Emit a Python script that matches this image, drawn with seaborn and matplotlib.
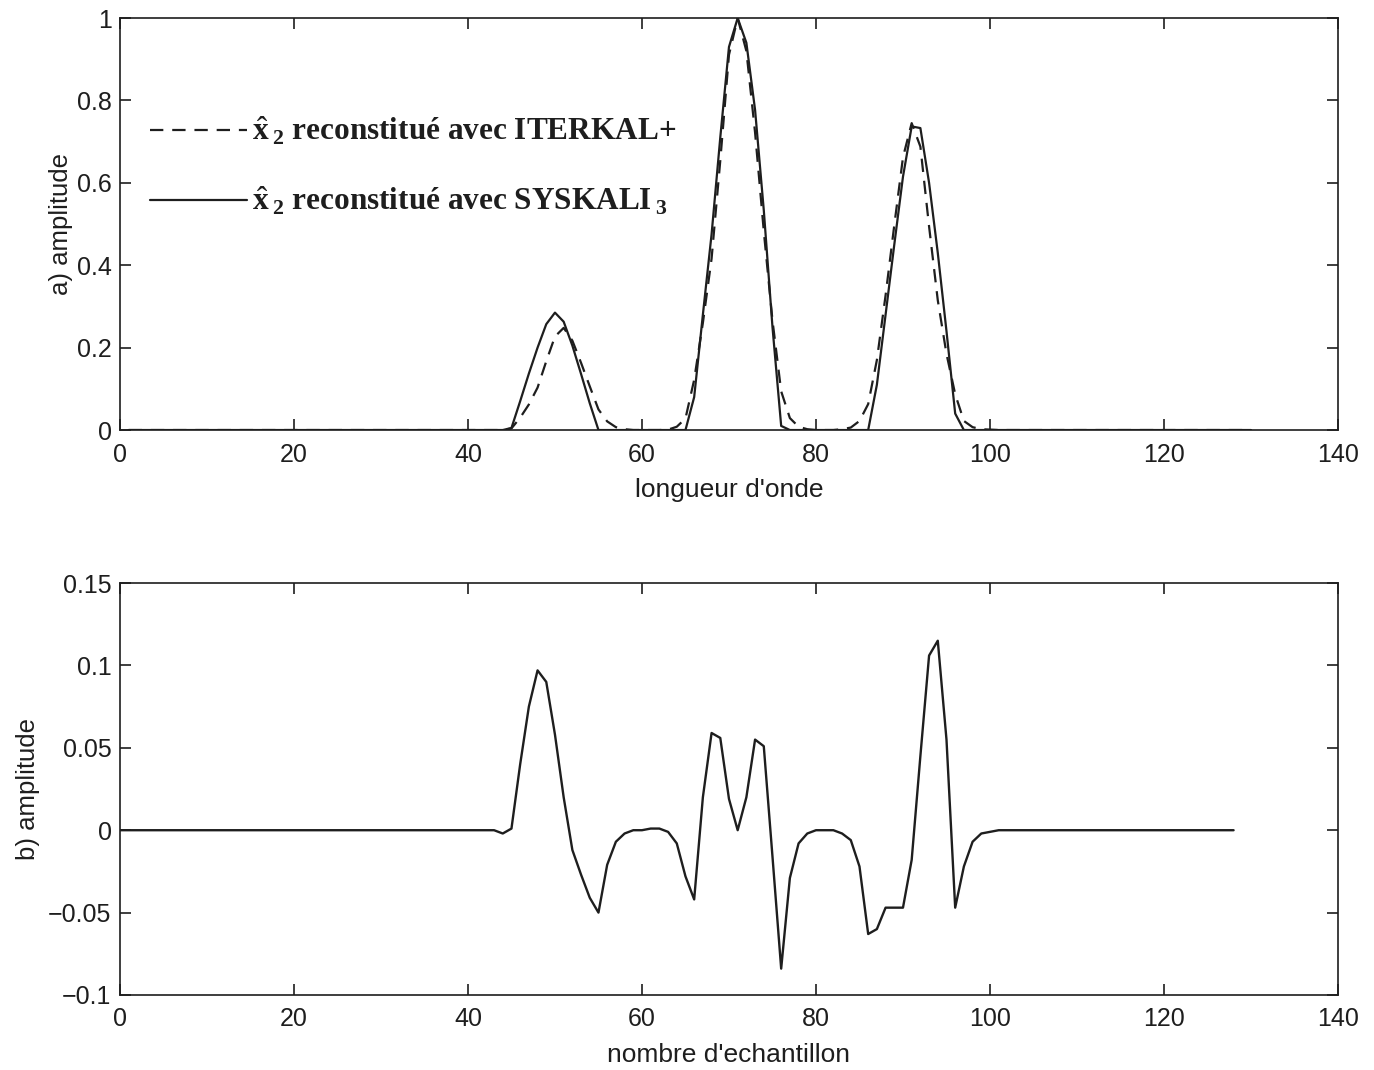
import numpy as np
import pandas as pd
import matplotlib
matplotlib.use("Agg")
import matplotlib.pyplot as plt
import seaborn as sns

# ---------------- data ----------------
# top panel: wavelength index 1..130
x_top = list(range(1, 131))
syskali = ([0.0] * 44 +                                   # 1..44
           [0.005, 0.07, 0.137, 0.2, 0.257, 0.285, 0.263, 0.205, 0.136, 0.065, 0.0] +   # 45..55
           [0.0] * 9 +                                    # 56..64
           [0.0, 0.08, 0.28, 0.475, 0.71, 0.93, 1.0, 0.94, 0.777, 0.534, 0.25, 0.01] +  # 65..76
           [0.0] * 9 +                                    # 77..85
           [0.0, 0.11, 0.28, 0.45, 0.615, 0.737, 0.733, 0.6, 0.43, 0.24, 0.04, 0.0] +   # 86..97
           [0.0] * 33)                                    # 98..130
iterkal = ([0.0] * 44 +                                   # 1..44
           [0.004, 0.03, 0.062, 0.103, 0.167, 0.227, 0.248, 0.217, 0.163, 0.106, 0.05,
            0.021, 0.007, 0.002] +                        # 45..58
           [0.0] * 4 +                                    # 59..62
           [0.001, 0.008, 0.028, 0.122, 0.26, 0.416, 0.654, 0.911, 1.0, 0.92, 0.722,
            0.483, 0.266, 0.094, 0.029, 0.008, 0.002] +   # 63..79
           [0.0] * 3 +                                    # 80..82
           [0.002, 0.006, 0.022, 0.063, 0.17, 0.327, 0.497, 0.662, 0.745, 0.688, 0.494,
            0.315, 0.185, 0.087, 0.022, 0.007, 0.002, 0.001] +  # 83..100
           [0.0] * 30)                                    # 101..130

# bottom panel: sample index 0..128
x_bot = list(range(0, 129))
diff = ([0.0] * 44 +                                      # 0..43
        [-0.002, 0.001, 0.04, 0.075, 0.097, 0.09, 0.058, 0.02, -0.012, -0.027, -0.041,
         -0.05, -0.021, -0.007, -0.002, 0.0, 0.0, 0.001, 0.001, -0.001, -0.008, -0.028,
         -0.042, 0.02, 0.059, 0.056, 0.019, 0.0, 0.02, 0.055, 0.051, -0.016, -0.084,
         -0.029, -0.008, -0.002, 0.0, 0.0, 0.0, -0.002, -0.006, -0.022, -0.063, -0.06,
         -0.047, -0.047, -0.047, -0.018, 0.045, 0.106, 0.115, 0.055, -0.047, -0.022,
         -0.007, -0.002, -0.001] +                        # 44..100
        [0.0] * 28)                                       # 101..128

xticks = [0, 20, 40, 60, 80, 100, 120, 140]
yticks_top = [0, 0.2, 0.4, 0.6, 0.8, 1.0]
ytick_labels_top = ["0", "0.2", "0.4", "0.6", "0.8", "1"]
yticks_bot = [-0.1, -0.05, 0, 0.05, 0.1, 0.15]
ytick_labels_bot = ["\u22120.1", "\u22120.05", "0", "0.05", "0.1", "0.15"]

label_iter = r"$\hat{\mathbf{x}}_{\;\mathbf{2}}$ reconstitué avec ITERKAL+"
label_sys = r"$\hat{\mathbf{x}}_{\;\mathbf{2}}$ reconstitué avec SYSKALI$_{\;\mathbf{3}}$"

# ---------------- style ----------------
sns.set_style("ticks")
plt.rcParams["font.family"] = ["Liberation Sans", "DejaVu Sans"]
plt.rcParams["mathtext.fontset"] = "custom"
plt.rcParams["mathtext.rm"] = "Liberation Serif"
plt.rcParams["mathtext.bf"] = "Liberation Serif:bold"
plt.rcParams["mathtext.it"] = "Liberation Serif:italic"

ink = "#1e1e1e"

fig = plt.figure(figsize=(13.74, 10.70), dpi=100)
ax1 = fig.add_axes([0.0873, 0.5981, 0.8865, 0.3850])
ax2 = fig.add_axes([0.0873, 0.0701, 0.8865, 0.3850])

df_top = pd.DataFrame({"x": x_top, "iter": iterkal, "sys": syskali})
df_bot = pd.DataFrame({"x": x_bot, "d": diff})

sns.lineplot(data=df_top, x="x", y="iter", ax=ax1, color=ink, lw=1.6,
             linestyle=(0, (6, 4)), label=label_iter)
sns.lineplot(data=df_top, x="x", y="sys", ax=ax1, color=ink, lw=1.6,
             label=label_sys)
sns.lineplot(data=df_bot, x="x", y="d", ax=ax2, color=ink, lw=1.7)

for ax in (ax1, ax2):
    ax.set_xlim(0, 140)
    ax.set_xticks(xticks)
    ax.set_xticklabels([str(t) for t in xticks])
    ax.tick_params(direction="in", top=True, right=True, length=8, width=1.2,
                   colors=ink, labelsize=18, labelcolor=ink)
    ax.tick_params(axis="x", pad=9)
    ax.tick_params(axis="y", pad=6)
    for s in ax.spines.values():
        s.set_linewidth(1.2)
        s.set_color(ink)
        s.set_visible(True)

ax1.set_ylim(0, 1)
ax1.set_yticks(yticks_top)
ax1.set_yticklabels(ytick_labels_top)
ax2.set_ylim(-0.1, 0.15)
ax2.set_yticks(yticks_bot)
ax2.set_yticklabels(ytick_labels_bot)

ax1.set_xlabel("longueur d'onde", fontsize=19, color=ink, labelpad=8)
ax1.set_ylabel("a) amplitude", fontsize=18.5, color=ink, labelpad=3)
ax2.set_xlabel("nombre d'echantillon", fontsize=19, color=ink, labelpad=8)
ax2.set_ylabel("b) amplitude", fontsize=18.5, color=ink, labelpad=6)

leg = ax1.legend(loc="upper left", bbox_to_anchor=(0.025, 0.764), frameon=False,
                 prop={"family": "Liberation Serif", "weight": "bold", "size": 22.5},
                 handlelength=3.1, handletextpad=0.15, labelspacing=1.2,
                 borderpad=0, borderaxespad=0)
for t in leg.get_texts():
    t.set_color(ink)

fig.savefig("out.png", dpi=100)
